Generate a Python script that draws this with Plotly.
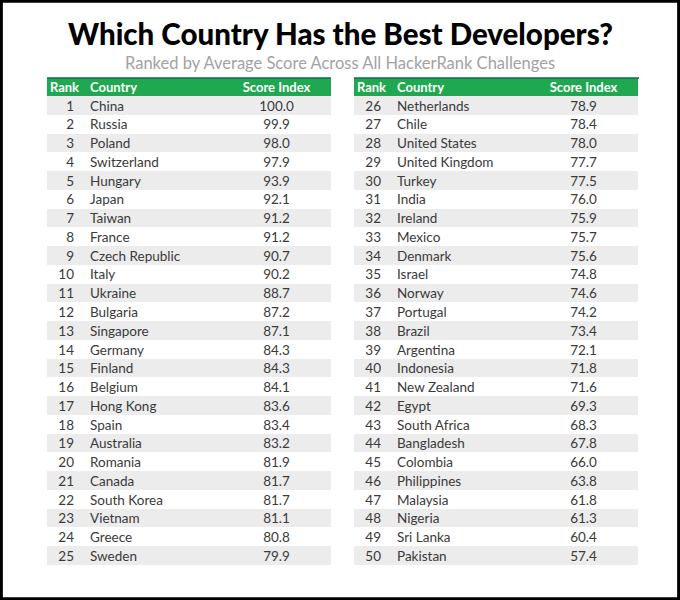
import plotly.graph_objects as go

ranks = list(range(1, 51))
countries = [
    "China", "Russia", "Poland", "Switzerland", "Hungary", "Japan", "Taiwan",
    "France", "Czech Republic", "Italy", "Ukraine", "Bulgaria", "Singapore",
    "Germany", "Finland", "Belgium", "Hong Kong", "Spain", "Australia",
    "Romania", "Canada", "South Korea", "Vietnam", "Greece", "Sweden",
    "Netherlands", "Chile", "United States", "United Kingdom", "Turkey",
    "India", "Ireland", "Mexico", "Denmark", "Israel", "Norway", "Portugal",
    "Brazil", "Argentina", "Indonesia", "New Zealand", "Egypt", "South Africa",
    "Bangladesh", "Colombia", "Philippines", "Malaysia", "Nigeria",
    "Sri Lanka", "Pakistan",
]
scores = [
    100.0, 99.9, 98.0, 97.9, 93.9, 92.1, 91.2, 91.2, 90.7, 90.2,
    88.7, 87.2, 87.1, 84.3, 84.3, 84.1, 83.6, 83.4, 83.2, 81.9,
    81.7, 81.7, 81.1, 80.8, 79.9,
    78.9, 78.4, 78.0, 77.7, 77.5, 76.0, 75.9, 75.7, 75.6, 74.8,
    74.6, 74.2, 73.4, 72.1, 71.8, 71.6, 69.3, 68.3, 67.8, 66.0,
    63.8, 61.8, 61.3, 60.4, 57.4,
]
headers = ["Rank", "Country", "Score Index"]

GREEN = "#1fa84f"
GREY = "#ececec"
TEXT = "#3a3a3a"
CLEAR = "rgba(0,0,0,0)"
W, H = 680, 600
TOP, BOTTOM = 78, 566
TEXT_LIFT = 3.5  # plotly puts cell text a bit low, so lift the text layer

fig = go.Figure()


def add_table(lo, hi, x0, x1):
    r = ranks[lo:hi]
    fills = [GREY if i % 2 == 0 else "white" for i in range(len(r))]
    common = dict(columnwidth=[35, 140, 109])
    # striped background layer
    fig.add_trace(go.Table(
        domain={"x": [x0 / W, x1 / W], "y": [1 - BOTTOM / H, 1 - TOP / H]},
        header={"values": ["", "", ""], "fill": {"color": GREEN},
                "line": {"color": GREEN, "width": 0}, "height": 18},
        cells={"values": [[""] * len(r)] * 3,
               "fill": {"color": [fills] * 3},
               "line": {"color": [fills] * 3, "width": 0},
               "height": 18.76},
        **common,
    ))
    # text layer
    fig.add_trace(go.Table(
        domain={"x": [x0 / W, x1 / W],
                "y": [1 - (BOTTOM - TEXT_LIFT) / H, 1 - (TOP - TEXT_LIFT) / H]},
        header={
            "values": headers,
            "fill": {"color": CLEAR},
            "line": {"color": CLEAR, "width": 0},
            "align": ["center", "left", "center"],
            "font": {"family": "Lato", "size": 13, "color": "white",
                     "weight": "bold"},
            "height": 18,
        },
        cells={
            "values": [r, countries[lo:hi], ["%.1f" % s for s in scores[lo:hi]]],
            "fill": {"color": CLEAR},
            "line": {"color": CLEAR, "width": 0},
            "align": ["right", "left", "center"],
            "font": {"family": "Lato", "size": 13.5, "color": TEXT},
            "height": 18.76,
        },
        **common,
    ))


add_table(0, 25, 47, 331)
add_table(25, 50, 354, 639)

# dark line on top of each header
for x0, x1 in [(47, 331), (354, 639)]:
    fig.add_shape(type="line", xref="paper", yref="paper",
                  x0=x0 / W, x1=x1 / W, y0=1 - TOP / H, y1=1 - TOP / H,
                  line={"color": "#116b5c", "width": 1.5})

# black frame
fig.add_shape(type="rect", xref="paper", yref="paper",
              x0=0.002, x1=0.998, y0=0.002, y1=0.998,
              line={"color": "black", "width": 3})

fig.add_annotation(text="Which Country Has the Best Developers?",
                   x=0.5, y=1 - 34 / H, xref="paper", yref="paper",
                   yanchor="middle", showarrow=False,
                   font={"family": "Lato", "size": 29.5, "color": "black",
                         "weight": 900})
fig.add_annotation(text="Ranked by Average Score Across All HackerRank Challenges",
                   x=0.5, y=1 - 63 / H, xref="paper", yref="paper",
                   yanchor="middle", showarrow=False,
                   font={"family": "Lato", "size": 16.5, "color": "#a2a2a2"})

fig.update_layout(width=W, height=H, margin={"l": 0, "r": 0, "t": 0, "b": 0},
                  paper_bgcolor="white", plot_bgcolor="white")

fig.write_html("out.html", config={"displayModeBar": False},
               post_script="document.body.style.margin='0';")
